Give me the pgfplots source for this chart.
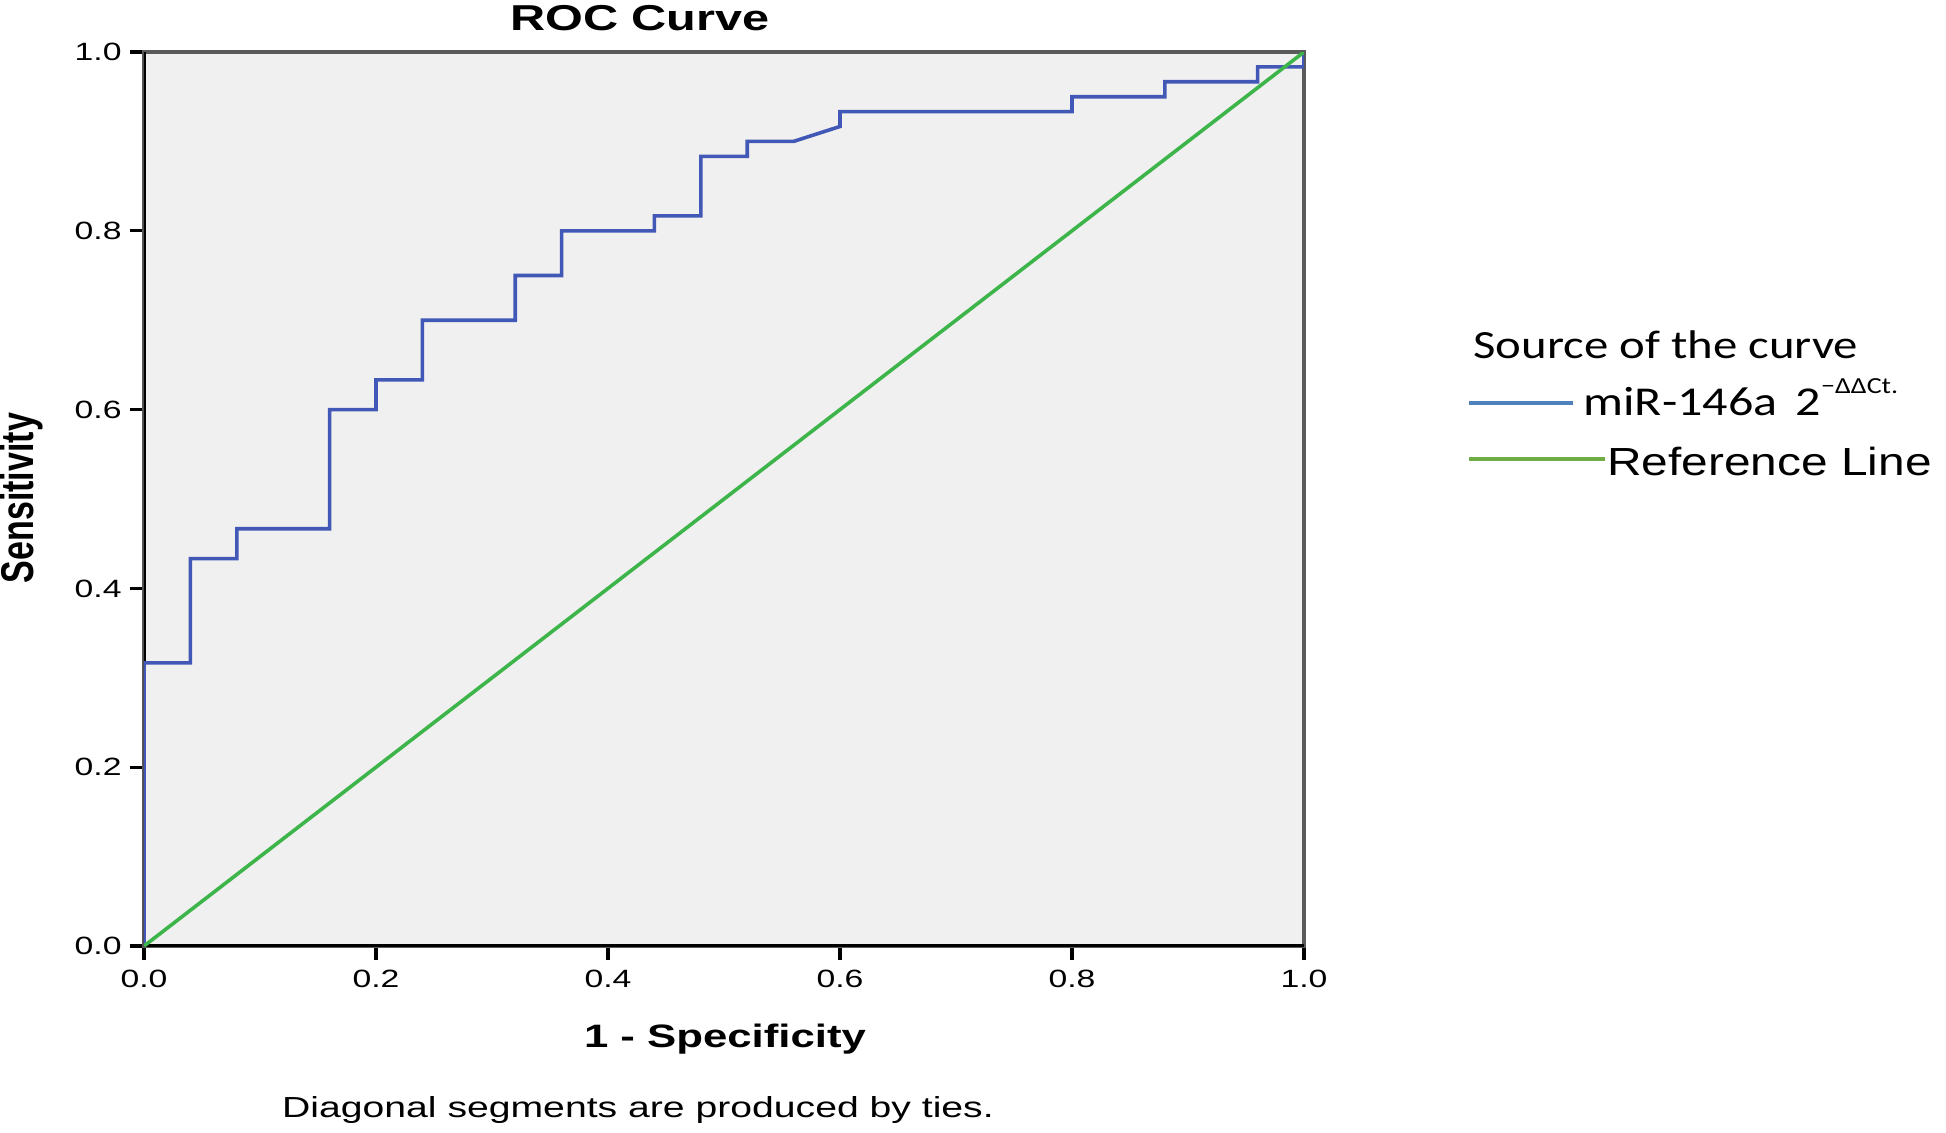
\documentclass[border=0pt]{standalone}
\usepackage{fontspec}
\setmainfont{Liberation Sans}[FakeStretch=1.35]
\newfontfamily\plainsans{Liberation Sans}
\newfontfamily\legsans{Liberation Sans}[FakeStretch=1.22]
\newfontfamily\legcal{Carlito}[FakeStretch=1.22]
\usepackage{pgfplots}
\pgfplotsset{compat=1.18}

\definecolor{rocblue}{HTML}{4258B6}
\definecolor{refgreen}{HTML}{3DB54A}
\definecolor{plotbg}{HTML}{F0F0F0}
\definecolor{framegray}{HTML}{5A5A5A}
\definecolor{legblue}{HTML}{4F81BD}
\definecolor{leggreen}{HTML}{70AD47}

\begin{document}
\begin{tikzpicture}
\useasboundingbox (-72pt,-93pt) rectangle (901pt,473pt);
\begin{axis}[
    at={(0,0)}, anchor=south west,
    scale only axis, width=580pt, height=447pt,
    xmin=0, xmax=1, ymin=0, ymax=1,
    xtick={0,0.2,0.4,0.6,0.8,1}, ytick={0,0.2,0.4,0.6,0.8,1},
    tick align=outside, xtick pos=bottom, ytick pos=left,
    major tick length=7pt,
    tick style={black, line width=1.6pt},
    axis line style={framegray, line width=2pt},
    axis background/.style={fill=plotbg},
    every tick label/.append style={inner sep=0pt, font=\fontsize{12.5}{14}\selectfont},
    xticklabel style={anchor=north, yshift=-5pt},
    yticklabel style={anchor=east, xshift=-4pt},
    /pgf/number format/.cd, fixed, fixed zerofill, precision=1, assume math mode=true,
]
% black left and bottom frame lines
\draw[black, line width=2pt] (rel axis cs:0,1) -- (rel axis cs:0,0) -- (rel axis cs:1,0);
% ROC step curve
\addplot[rocblue, line width=1.8pt, clip=false] coordinates {
    (0,0) (0,0.3167) (0.04,0.3167) (0.04,0.4333) (0.08,0.4333) (0.08,0.4667)
    (0.16,0.4667) (0.16,0.6) (0.2,0.6) (0.2,0.6333) (0.24,0.6333) (0.24,0.7)
    (0.32,0.7) (0.32,0.75) (0.36,0.75) (0.36,0.8) (0.44,0.8) (0.44,0.8167)
    (0.48,0.8167) (0.48,0.8833) (0.52,0.8833) (0.52,0.9) (0.56,0.9)
    (0.6,0.9167) (0.6,0.9333) (0.8,0.9333) (0.8,0.95) (0.88,0.95)
    (0.88,0.9667) (0.96,0.9667) (0.96,0.9833) (1,0.9833) (1,1)
};
% reference line
\addplot[refgreen, line width=1.8pt] coordinates {(0,0) (1,1)};
\end{axis}

% titles and labels
\node[anchor=base, font=\bfseries\fontsize{18}{20}\selectfont] at (248pt,457.5pt) {ROC Curve};
\node[anchor=base, font=\bfseries\fontsize{16.2}{18}\selectfont] at (290.5pt,-50.5pt) {1 - Specificity};
\node[anchor=base, font=\fontsize{14.5}{17}\selectfont] at (247pt,-85.5pt) {Diagonal segments are produced by ties.};
\node[xscale=1.35, rotate=90, font=\plainsans\bfseries\fontsize{17}{20}\selectfont] at (-61pt,224pt) {Sensitivity};

% legend
\node[anchor=base west, inner sep=0pt, font=\legcal\fontsize{20}{24}\selectfont] at (664.5pt,294pt) {Source of the curve};
\draw[legblue, line width=1.6pt] (662.5pt,271.5pt) -- (714.5pt,271.5pt);
\node[anchor=base west, inner sep=0pt, font=\legcal\fontsize{20.5}{24}\selectfont] at (719.5pt,265.5pt)
    {miR-146a\hspace{0.45em}2\raisebox{11pt}{\fontsize{11.5}{13}\selectfont −ΔΔCt.}};
\draw[leggreen, line width=1.6pt] (662.5pt,243.5pt) -- (730.5pt,243.5pt);
\node[anchor=base west, inner sep=0pt, font=\legsans\fontsize{19.6}{23}\selectfont] at (731.5pt,235.5pt) {Reference Line};
\end{tikzpicture}
\end{document}
